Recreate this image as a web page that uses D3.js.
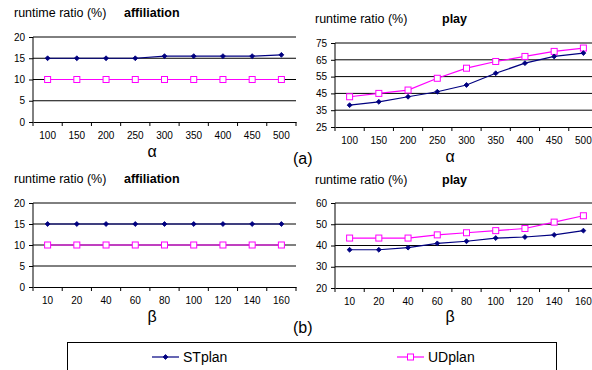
<!DOCTYPE html>
<meta charset="utf-8">
<style>
body { margin: 0; background: #fff; }
svg { display: block; font-family: "Liberation Sans", Arial, sans-serif; }
.tick text { font-size: 10px; fill: #000; }
</style>
<svg width="592" height="370"></svg>
<script src="https://cdn.jsdelivr.net/npm/d3@7"></script>
<script>
// categories
var alphaCats = ["100", "150", "200", "250", "300", "350", "400", "450", "500"];
var betaCats = ["10", "20", "40", "60", "80", "100", "120", "140", "160"];

// values
var affAlphaST = [15, 15, 15, 15, 15.5, 15.5, 15.5, 15.5, 15.8];
var affAlphaUD = [10, 10, 10, 10, 10, 10, 10, 10, 10];
var playAlphaST = [38, 40, 43, 46, 50, 57, 63, 67, 69];
var playAlphaUD = [43, 45, 47, 54, 60, 64, 67, 70, 72];
var affBetaST = [15, 15, 15, 15, 15, 15, 15, 15, 15];
var affBetaUD = [10, 10, 10, 10, 10, 10, 10, 10, 10];
var playBetaST = [38, 38, 39, 41, 42, 43.5, 44, 45, 47];
var playBetaUD = [43.5, 43.5, 43.5, 45, 46, 47, 48, 51, 54];

var affTicks = [0, 5, 10, 15, 20];
var playAlphaTicks = [25, 35, 45, 55, 65, 75];
var playBetaTicks = [20, 30, 40, 50, 60];

var stColor = "#000080", udColor = "#ff00ff";

var svg = d3.select("svg");

var diamond = d3.symbol(d3.symbolSquare, 12);

function panel(o) {
  var g = svg.append("g");
  var x = d3.scaleBand().domain(o.cats).range([o.x0, o.x1]);
  var y = d3.scaleLinear().domain(d3.extent(o.ticks)).range([o.y1, o.y0]);

  // gridlines
  g.selectAll(".grid").data(o.ticks.slice(1)).enter().append("line")
      .attr("x1", o.x0).attr("x2", o.x1)
      .attr("y1", function(d) { return y(d); })
      .attr("y2", function(d) { return y(d); })
      .attr("stroke", "#000").attr("stroke-width", 1);

  var ya = g.append("g")
      .attr("transform", "translate(" + o.x0 + ",0)")
      .call(d3.axisLeft(y).tickValues(o.ticks).tickSize(4).tickPadding(4));
  ya.select(".domain").remove();
  ya.append("line").attr("x1", 0).attr("x2", 0).attr("y1", o.y0).attr("y2", o.y1).attr("stroke", "#000");

  var xa = g.append("g")
      .attr("transform", "translate(0," + o.y1 + ")")
      .call(d3.axisBottom(x).tickSize(0).tickPadding(10));
  xa.select(".domain").attr("stroke", "#000");
  // ticks between categories
  var bounds = o.cats.map(function(c) { return x(c); }).concat([o.x1]);
  xa.selectAll(".btick").data(bounds).enter().append("line")
      .attr("x1", function(d) { return d; }).attr("x2", function(d) { return d; })
      .attr("y1", 0).attr("y2", 4).attr("stroke", "#000");

  var line = d3.line()
      .x(function(d, i) { return x(o.cats[i]) + x.bandwidth() / 2; })
      .y(function(d) { return y(d); });

  g.append("path").datum(o.ud).attr("d", line)
      .attr("fill", "none").attr("stroke", udColor).attr("stroke-width", 1.2);
  g.append("path").datum(o.st).attr("d", line)
      .attr("fill", "none").attr("stroke", stColor).attr("stroke-width", 1.2);

  g.selectAll(".ud").data(o.ud).enter().append("rect")
      .attr("x", function(d, i) { return x(o.cats[i]) + x.bandwidth() / 2 - 3; })
      .attr("y", function(d) { return y(d) - 3; })
      .attr("width", 6).attr("height", 6)
      .attr("fill", "#fff").attr("stroke", udColor).attr("stroke-width", 1);
  g.selectAll(".st").data(o.st).enter().append("path")
      .attr("d", diamond)
      .attr("transform", function(d, i) {
        return "translate(" + (x(o.cats[i]) + x.bandwidth() / 2) + "," + y(d) + ") rotate(45)";
      })
      .attr("fill", stColor).attr("stroke", stColor).attr("stroke-width", 0.8);

  g.append("text").attr("x", o.tx).attr("y", o.ty)
      .attr("font-size", "12.5px").text("runtime ratio (%)");
  g.append("text").attr("x", o.nx).attr("y", o.ty)
      .attr("font-size", "12.5px").attr("font-weight", "bold").text(o.name);
  g.append("text").attr("x", o.ax).attr("y", o.ay)
      .attr("font-size", "16px").attr("text-anchor", "middle").text(o.axisLabel);
}

panel({ cats: alphaCats, st: affAlphaST, ud: affAlphaUD, ticks: affTicks,
  x0: 33, x1: 296, y0: 37, y1: 122, tx: 14, ty: 17, nx: 124, name: "affiliation",
  ax: 152, ay: 157, axisLabel: "α" });
panel({ cats: alphaCats, st: playAlphaST, ud: playAlphaUD, ticks: playAlphaTicks,
  x0: 335, x1: 598, y0: 43, y1: 127, tx: 315, ty: 23, nx: 442, name: "play",
  ax: 450, ay: 162, axisLabel: "α" });
panel({ cats: betaCats, st: affBetaST, ud: affBetaUD, ticks: affTicks,
  x0: 33, x1: 296, y0: 203, y1: 287, tx: 14, ty: 183, nx: 124, name: "affiliation",
  ax: 152, ay: 322, axisLabel: "β" });
panel({ cats: betaCats, st: playBetaST, ud: playBetaUD, ticks: playBetaTicks,
  x0: 335, x1: 598, y0: 203, y1: 288, tx: 315, ty: 184, nx: 442, name: "play",
  ax: 450, ay: 322, axisLabel: "β" });

svg.append("text").attr("x", 293).attr("y", 164).attr("font-size", "16px").text("(a)");
svg.append("text").attr("x", 293).attr("y", 333).attr("font-size", "16px").text("(b)");

// legend
svg.append("rect").attr("x", 67.5).attr("y", 342.5).attr("width", 489).attr("height", 40)
    .attr("fill", "#fff").attr("stroke", "#000").attr("stroke-width", 1);
var leg = [{ name: "STplan", color: stColor, x: 152 }, { name: "UDplan", color: udColor, x: 397 }];
leg.forEach(function(l, i) {
  svg.append("line").attr("x1", l.x).attr("x2", l.x + 27).attr("y1", 357).attr("y2", 357)
      .attr("stroke", l.color).attr("stroke-width", 1.2);
  if (i === 0) {
    svg.append("path").attr("d", diamond)
        .attr("transform", "translate(" + (l.x + 13.5) + ",357) rotate(45)")
        .attr("fill", l.color).attr("stroke", l.color).attr("stroke-width", 0.8);
  } else {
    svg.append("rect").attr("x", l.x + 10.5).attr("y", 354).attr("width", 6).attr("height", 6)
        .attr("fill", "#fff").attr("stroke", l.color);
  }
  svg.append("text").attr("x", l.x + 31).attr("y", 362).attr("font-size", "14px").text(l.name);
});
</script>
